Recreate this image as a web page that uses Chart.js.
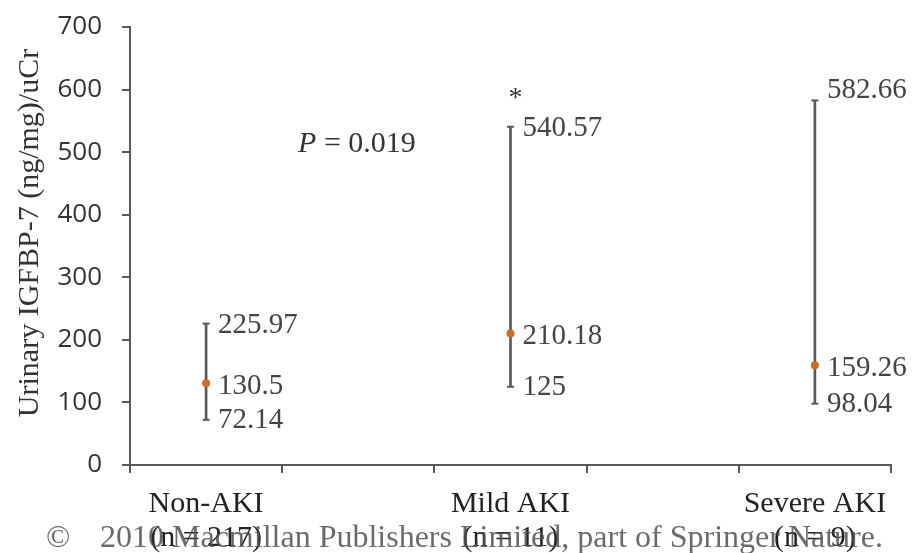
<!DOCTYPE html>
<html>
<head>
<meta charset="utf-8">
<title>Urinary IGFBP-7</title>
<script src="https://cdn.jsdelivr.net/npm/chart.js@4/dist/chart.umd.min.js"></script>
<style>
    html, body { margin: 0; padding: 0; background: #fff; }
    #chart { display: block; }
</style>
</head>
<body>
<canvas id="chart" width="914" height="553"></canvas>
<script>
// groups on the x axis (empty slots sit between them, like the original)
const categories = [['Non-AKI', '(n = 217)'], '', ['Mild AKI', '(n = 11)'], '', ['Severe AKI', '(n = 9)']];
const medians = [130.5, null, 210.18, null, 159.26];
const lows = [72.14, null, 125, null, 98.04];
const highs = [225.97, null, 540.57, null, 582.66];
const markers = ['', '', '*', '', ''];
const yTicks = [0, 100, 200, 300, 400, 500, 600, 700];
const yTitle = 'Urinary IGFBP-7 (ng/mg)/uCr';
const pValue = '0.019';
const credit = '2010 Macmillan Publishers Limited, part of Springer Nature.';

document.addEventListener('DOMContentLoaded', () => {
    const serif = '"Liberation Serif", "Times New Roman", serif';
    const axisGrey = '#595959';

    // 1. Labels next to the whiskers, asterisk, P value, title and credit line
    const annotations = {
        id: 'annotations',
        afterDatasetsDraw(chart) {
            const { ctx, scales: { x, y } } = chart;
            ctx.save();

            ctx.font = `29px ${serif}`;
            ctx.fillStyle = '#444';
            ctx.textAlign = 'left';
            ctx.textBaseline = 'middle';
            medians.forEach((m, i) => {
                if (m === null) return;
                const px = x.getPixelForValue(i) + 12;
                const shiftTop = i === 4 ? -12 : 0;
                ctx.fillText(String(highs[i]), px, y.getPixelForValue(highs[i]) + 2 + shiftTop);
                ctx.fillText(String(m), px, y.getPixelForValue(m) + 3);
                ctx.fillText(String(lows[i]), px, y.getPixelForValue(lows[i]) + 1);
            });

            // significance marker over the whisker
            ctx.font = `28px ${serif}`;
            ctx.fillStyle = '#333';
            ctx.textAlign = 'center';
            ctx.textBaseline = 'alphabetic';
            markers.forEach((mk, i) => {
                if (!mk) return;
                ctx.fillText(mk, x.getPixelForValue(i) + 5, y.getPixelForValue(highs[i]) - 21);
            });

            // P = 0.019
            const px0 = x.getPixelForValue(0) + 92;
            const py0 = y.getPixelForValue(500);
            ctx.textAlign = 'left';
            ctx.fillStyle = '#333';
            ctx.font = `italic 30px ${serif}`;
            ctx.fillText('P', px0, py0);
            const pw = ctx.measureText('P').width;
            ctx.font = `30px ${serif}`;
            ctx.fillText(' = ' + pValue, px0 + pw, py0);

            // y axis title
            ctx.save();
            ctx.translate(30, 233);
            ctx.rotate(-Math.PI / 2);
            ctx.textAlign = 'center';
            ctx.textBaseline = 'middle';
            ctx.font = `30px ${serif}`;
            ctx.fillStyle = '#333';
            ctx.fillText(yTitle, 0, 0);
            ctx.restore();

            // copyright line across the bottom
            ctx.font = `32px ${serif}`;
            ctx.fillStyle = 'rgba(80, 80, 80, 0.85)';
            ctx.textAlign = 'left';
            ctx.fillText('\u00A9', 46, 547);
            ctx.fillText(credit, 100, 547);

            ctx.restore();
        }
    };

    // 2. Chart
    new Chart(document.getElementById('chart'), {
        type: 'bar',
        data: {
            labels: categories,
            datasets: [
                {
                    // median dots
                    type: 'line',
                    data: medians,
                    showLine: false,
                    pointRadius: 4,
                    pointBackgroundColor: '#d06a24',
                    pointBorderWidth: 0,
                    order: 0
                },
                {
                    // whisker caps
                    type: 'line',
                    data: lows,
                    showLine: false,
                    pointStyle: 'line',
                    pointRadius: 3.5,
                    pointBorderColor: axisGrey,
                    pointBorderWidth: 2,
                    order: 1
                },
                {
                    type: 'line',
                    data: highs,
                    showLine: false,
                    pointStyle: 'line',
                    pointRadius: 3.5,
                    pointBorderColor: axisGrey,
                    pointBorderWidth: 2,
                    order: 1
                },
                {
                    // whisker body, low to high
                    type: 'bar',
                    data: lows.map((lo, i) => lo === null ? null : [lo, highs[i]]),
                    backgroundColor: axisGrey,
                    barThickness: 2,
                    borderWidth: 0,
                    order: 2
                }
            ]
        },
        options: {
            responsive: false,
            animation: false,
            devicePixelRatio: 1,
            layout: { autoPadding: false, padding: { left: 0, right: 23, top: 27, bottom: 0 } },
            plugins: {
                legend: { display: false },
                tooltip: { enabled: false }
            },
            scales: {
                x: {
                    offset: true,
                    grid: {
                        offset: true,
                        drawOnChartArea: false,
                        color: axisGrey,
                        lineWidth: 2,
                        tickLength: 8
                    },
                    border: { color: axisGrey, width: 2 },
                    ticks: {
                        autoSkip: false,
                        maxRotation: 0,
                        padding: 14,
                        color: '#222',
                        font: { family: serif, size: 30, lineHeight: 1.13 }
                    },
                    afterFit(scale) { scale.height = 88; }
                },
                y: {
                    min: yTicks[0],
                    max: yTicks[yTicks.length - 1],
                    afterBuildTicks(scale) {
                        scale.ticks = yTicks.map(v => ({ value: v }));
                    },
                    grid: {
                        drawOnChartArea: false,
                        color: axisGrey,
                        lineWidth: 2,
                        tickLength: 8
                    },
                    border: { color: axisGrey, width: 2 },
                    ticks: {
                        padding: 20,
                        color: '#333',
                        font: { family: '"Open Sans", sans-serif', size: 26 }
                    },
                    afterFit(scale) {
                        scale.width = 130;
                        // label padding should not push the plot area down
                        scale.paddingTop = 0;
                        scale.paddingBottom = 0;
                    }
                }
            }
        },
        plugins: [annotations]
    });
});
</script>
</body>
</html>
